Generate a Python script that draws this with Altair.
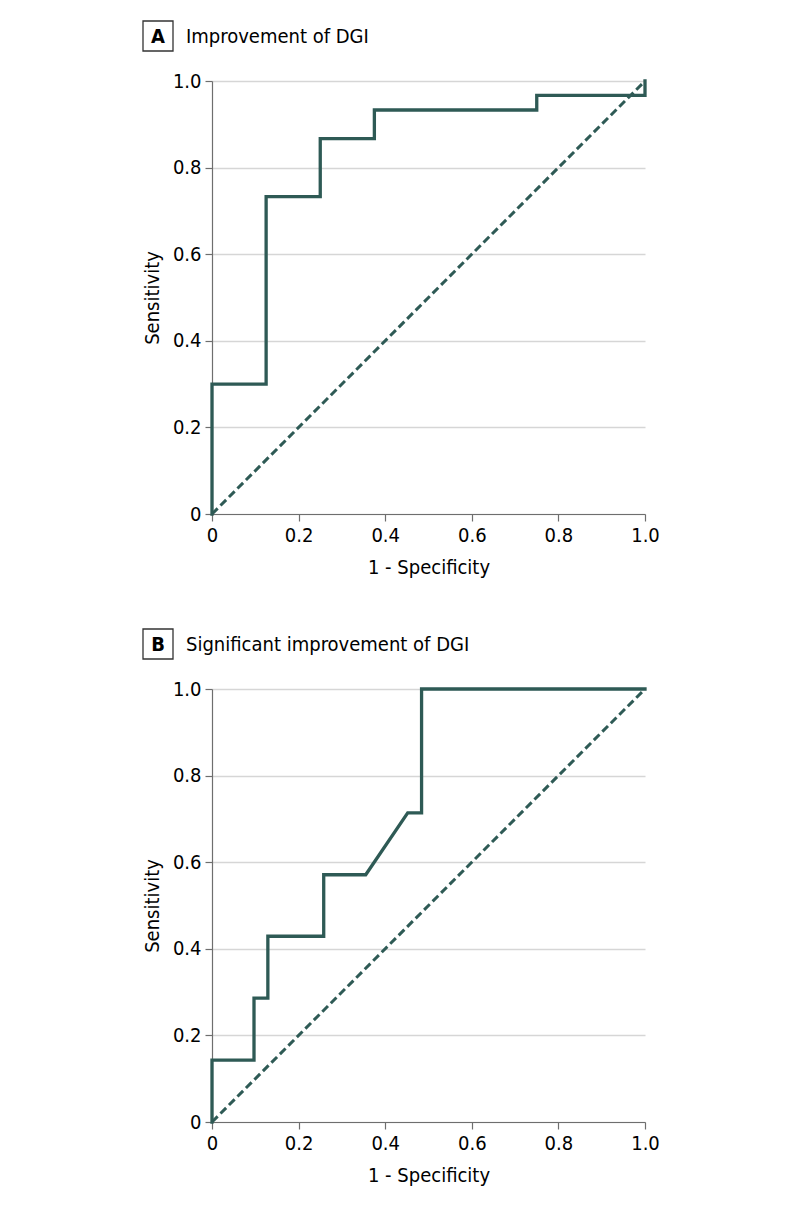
import altair as alt
import pandas as pd

# ---- data ----
panel_letters = ["A", "B"]
panel_titles = ["Improvement of DGI", "Significant improvement of DGI"]

a_fpr = [0, 0, 0.125, 0.125, 0.25, 0.25, 0.375, 0.375, 0.75, 0.75, 1.0, 1.0]
a_tpr = [0, 0.3, 0.3, 0.733, 0.733, 0.867, 0.867, 0.933, 0.933, 0.967, 0.967, 1.0]

b_fpr = [0, 0, 0.097, 0.097, 0.129, 0.129, 0.258, 0.258, 0.355, 0.452, 0.484, 0.484, 1.0]
b_tpr = [0, 0.143, 0.143, 0.286, 0.286, 0.429, 0.429, 0.571, 0.571, 0.714, 0.714, 1.0, 1.0]

ref_x = [0, 1]
ref_y = [0, 1]

tick_vals = [0, 0.2, 0.4, 0.6, 0.8, 1.0]

FONT = "Liberation Sans Narrow, DejaVu Sans Condensed, sans-serif"
LINE = "#2e5a55"
W = 433
H = 433

label_expr = "datum.value == 0 ? '0' : format(datum.value, '.1f')"


def panel(fpr, tpr, letter, title):
    roc = pd.DataFrame({"fpr": fpr, "tpr": tpr, "order": list(range(len(fpr)))})
    ref = pd.DataFrame({"fpr": ref_x, "tpr": ref_y, "order": [0, 1]})
    one = pd.DataFrame({"letter": [letter], "title": [title]})

    xenc = alt.X(
        "fpr:Q",
        scale=alt.Scale(domain=[0, 1], nice=False),
        axis=alt.Axis(values=tick_vals, labelExpr=label_expr, title="1 - Specificity", grid=False),
    )
    yenc = alt.Y(
        "tpr:Q",
        scale=alt.Scale(domain=[0, 1], nice=False),
        axis=alt.Axis(values=tick_vals, labelExpr=label_expr, title="Sensitivity", grid=True),
    )

    ref_line = alt.Chart(ref).mark_line(
        color=LINE, strokeWidth=3, strokeDash=[8, 4], clip=False
    ).encode(x=xenc, y=yenc, order="order:Q")

    roc_line = alt.Chart(roc).mark_line(
        color=LINE, strokeWidth=3.3, clip=False, strokeJoin="miter", strokeCap="square"
    ).encode(x=xenc, y=yenc, order="order:Q")

    box = alt.Chart(one).mark_rect(
        fill="white", stroke="#333333", strokeWidth=1.3
    ).encode(x=alt.value(-69), x2=alt.value(-39), y=alt.value(-60), y2=alt.value(-30))

    letter_txt = alt.Chart(one).mark_text(
        font=FONT, fontSize=20, fontWeight="bold", align="center", baseline="middle", color="black"
    ).encode(x=alt.value(-54), y=alt.value(-44), text="letter:N")

    title_txt = alt.Chart(one).mark_text(
        font=FONT, fontSize=20, align="left", baseline="middle", color="black"
    ).encode(x=alt.value(-26), y=alt.value(-44), text="title:N")

    return alt.layer(ref_line, roc_line, box, letter_txt, title_txt).properties(width=W, height=H)


chart = alt.vconcat(
    panel(a_fpr, a_tpr, panel_letters[0], panel_titles[0]),
    panel(b_fpr, b_tpr, panel_letters[1], panel_titles[1]),
    spacing=51,
).properties(
    padding={"left": 134, "top": 12, "right": 5, "bottom": 5}
).configure_view(
    stroke=None
).configure_axis(
    labelFont=FONT,
    titleFont=FONT,
    labelFontSize=20,
    titleFontSize=20,
    titleFontWeight="normal",
    labelColor="black",
    titleColor="black",
    domainColor="#6e6e6e",
    domainWidth=1.2,
    tickColor="#6e6e6e",
    tickWidth=1.2,
    tickSize=7,
    gridColor="#d6d6d6",
    gridWidth=1.5,
    labelFlush=False,
    labelOverlap=False,
    labelPadding=4,
).configure_axisY(
    titlePadding=10,
).configure_axisX(
    titlePadding=12,
)

chart.save("out.html", embed_options={"renderer": "svg", "actions": False})
